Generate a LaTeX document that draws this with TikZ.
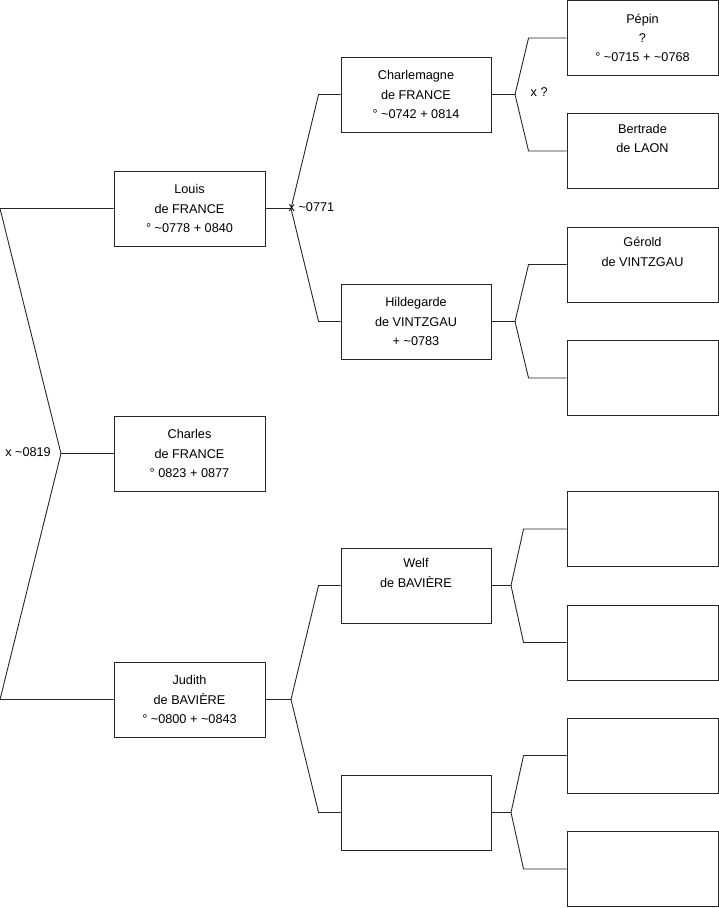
\documentclass[tikz,border=0pt]{standalone}
\usepackage{fontspec}
\setmainfont{Liberation Sans}
\usetikzlibrary{calc}
\begin{document}
\begin{tikzpicture}[x=1pt,y=-1pt,
  person/.style={draw=black!85,line width=0.9pt,rectangle,minimum width=151pt,minimum height=75pt,
    align=center,inner sep=0pt,font=\fontsize{12.7}{19.3}\selectfont,fill=white},
  link/.style={draw=black!85,line width=0.9pt},
  lab/.style={font=\fontsize{12.7}{15}\selectfont,inner sep=0pt}]
\useasboundingbox (0,0) rectangle (719,908);
% generation 1
\node[person] (louis) at (189.5,208.5) {Louis\\de FRANCE\\° \textasciitilde0778 + 0840};
\node[person] (charles) at (189.5,453.5) {Charles\\de FRANCE\\° 0823 + 0877};
\node[person] (judith) at (189.5,699.5) {Judith\\de BAVIÈRE\\° \textasciitilde0800 + \textasciitilde0843};
% generation 2
\node[person,minimum width=150pt] (charlemagne) at (416,94.5) {Charlemagne\\de FRANCE\\° \textasciitilde0742 + 0814};
\node[person,minimum width=150pt] (hildegarde) at (416,321.5) {Hildegarde\\de VINTZGAU\\+ \textasciitilde0783};
\node[person,minimum width=150pt] (welf) at (416,585.5) {Welf\\de BAVIÈRE\\\strut};
\node[person,minimum width=150pt] (e2) at (416,812.5) {};
% generation 3
\node[person] (pepin) at (642.5,38) {Pépin\\?\\° \textasciitilde0715 + \textasciitilde0768};
\node[person] (bertrade) at (642.5,151) {Bertrade\\de LAON\\\strut};
\node[person] (gerold) at (642.5,264.5) {Gérold\\de VINTZGAU\\\strut};
\node[person] (e3a) at (642.5,378) {};
\node[person] (e3b) at (642.5,529) {};
\node[person] (e3c) at (642.5,642.5) {};
\node[person] (e3d) at (642.5,755.5) {};
\node[person] (e3e) at (642.5,869) {};
% fork gen1
\coordinate (j0) at (61,453.5);
\coordinate (a0) at (0,208.5);
\coordinate (b0) at (0,699.5);
\draw[link] (louis.west) -- (a0) -- (j0) -- (b0) -- (judith.west);
\draw[link] (j0) -- (charles.west);
\node[lab,anchor=east] (m0) at (51,452) {x \textasciitilde0819};
% fork Louis
\coordinate (j1) at (291,208.5);
\draw[link] (louis.east) -- (j1) -- ($(charlemagne.west)+(-22,0)$) -- (charlemagne.west);
\draw[link] (j1) -- ($(hildegarde.west)+(-22,0)$) -- (hildegarde.west);
\node[lab,anchor=west] (m1) at (288.5,207) {x \textasciitilde0771};
% fork Judith
\coordinate (j2) at (291,699.5);
\draw[link] (judith.east) -- (j2) -- ($(welf.west)+(-22,0)$) -- (welf.west);
\draw[link] (j2) -- ($(e2.west)+(-22,0)$) -- (e2.west);
% fork Charlemagne
\coordinate (j3) at (515,94.5);
\draw[link] (charlemagne.east) -- (j3) -- ($(pepin.west)+(-38,0)$) -- (pepin.west);
\draw[link] (j3) -- ($(bertrade.west)+(-38,0)$) -- (bertrade.west);
\node[lab,anchor=west] (m3) at (530.5,92.5) {x ?};
% fork Hildegarde
\coordinate (j4) at (515,321.5);
\draw[link] (hildegarde.east) -- (j4) -- ($(gerold.west)+(-38,0)$) -- (gerold.west);
\draw[link] (j4) -- ($(e3a.west)+(-38,0)$) -- (e3a.west);
% fork Welf
\coordinate (j5) at (511,585.5);
\draw[link] (welf.east) -- (j5) -- ($(e3b.west)+(-43,0)$) -- (e3b.west);
\draw[link] (j5) -- ($(e3c.west)+(-43,0)$) -- (e3c.west);
% fork empty gen2
\coordinate (j6) at (511,812.5);
\draw[link] (e2.east) -- (j6) -- ($(e3d.west)+(-43,0)$) -- (e3d.west);
\draw[link] (j6) -- ($(e3e.west)+(-43,0)$) -- (e3e.west);
\end{tikzpicture}
\end{document}
